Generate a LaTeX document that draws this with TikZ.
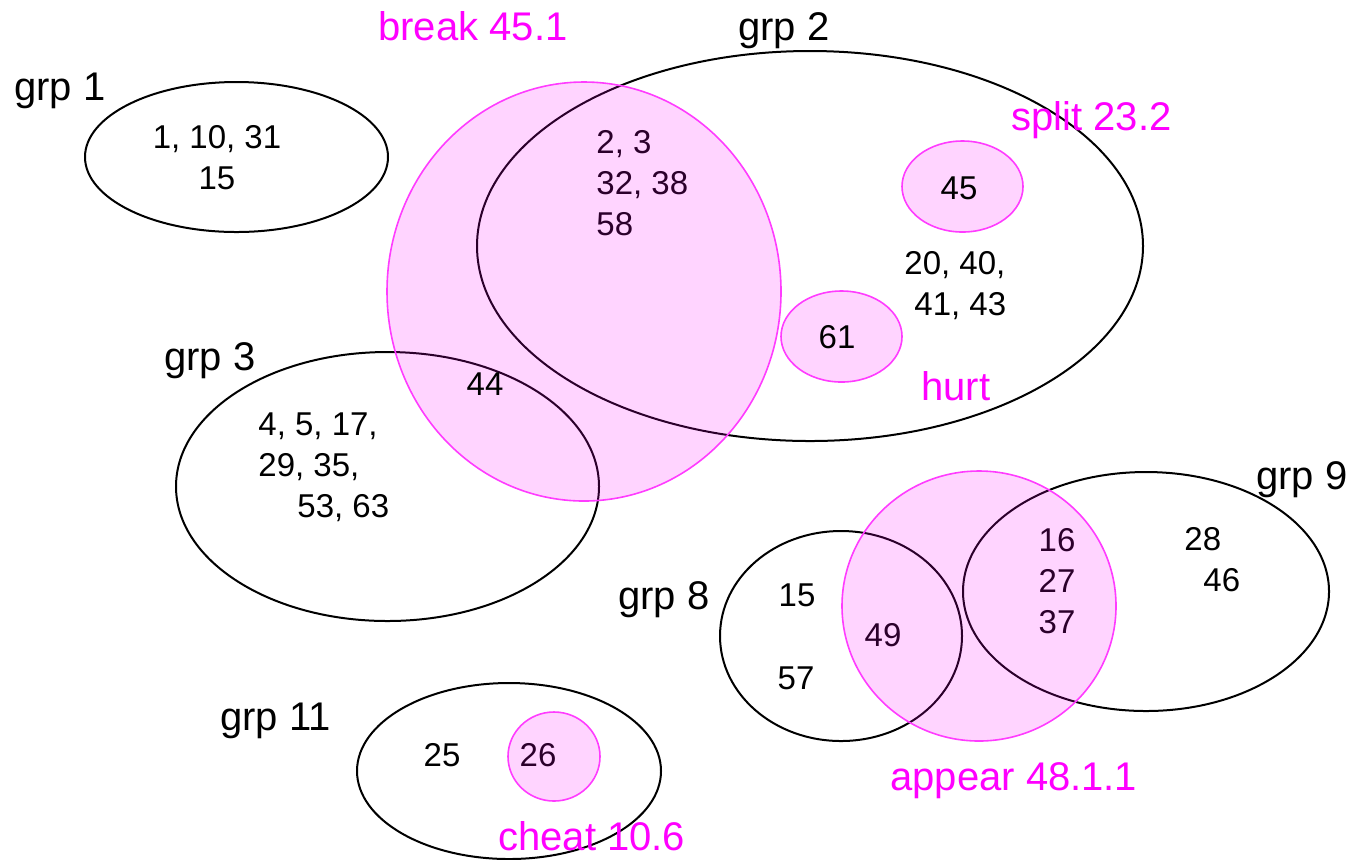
\documentclass[tikz,border=0pt]{standalone}
\usepackage{fontspec}
\setmainfont{Liberation Sans}
\definecolor{tagpink}{RGB}{255,0,255}
\definecolor{tagline}{RGB}{255,60,255}
\begin{document}
\begin{tikzpicture}[x=0.5pt,y=-0.5pt,
  grp/.style={draw=black,line width=1pt},
  tag/.style={fill=tagpink,fill opacity=0.17,draw=tagline,draw opacity=1,line width=0.8pt},
  num/.style={inner sep=0pt,font=\fontsize{16.5}{20.5}\selectfont},
  lbl/.style={inner sep=0pt,anchor=base west,font=\fontsize{20}{24}\selectfont},
  taglbl/.style={lbl,text=tagpink}]
\useasboundingbox (0,0) rectangle (1347,859);

% group outlines
\draw[grp] (236.5,157) ellipse [x radius=75.75pt, y radius=37.5pt];
\draw[grp] (810,246) ellipse [x radius=166.5pt, y radius=97.5pt];
\draw[grp] (387.5,486.5) ellipse [x radius=105.75pt, y radius=67.25pt];
\draw[grp] (841,636) ellipse [x radius=60.5pt, y radius=52.5pt];
\draw[grp] (1146,591.5) ellipse [x radius=91.5pt, y radius=59.75pt];
\draw[grp] (509,771) ellipse [x radius=76pt, y radius=44pt];

% group labels
\node[lbl] (g1) at (14,100) {grp 1};
\node[lbl] (g2) at (738,40) {grp 2};
\node[lbl] (g3) at (164,370) {grp 3};
\node[lbl] (g8) at (618,609) {grp 8};
\node[lbl] (g9) at (1256,489) {grp 9};
\node[lbl] (g11) at (220,730) {grp 11};

% tag labels
\node[taglbl] (tbreak) at (378,40) {break 45.1};
\node[taglbl] (tsplit) at (1011,130) {split 23.2};
\node[taglbl] (thurt) at (921,400) {hurt};
\node[taglbl] (tappear) at (890,790) {appear 48.1.1};
\node[taglbl] (tcheat) at (498,850) {cheat 10.6};

% members
\node[num,align=center] (m1) at (217,158) {1, 10, 31\\15};
\node[num,align=left,anchor=west] (m2a) at (596,183) {2, 3\\32, 38\\58};
\node[num,align=left,anchor=west] (m2b) at (904,286) {20, 40,\\\hspace*{5pt}41, 43};
\node[num,align=left,anchor=west] (m3) at (258,467) {4, 5, 17,\\29, 35,\\\hspace*{19.5pt}53, 63};
\node[num] (m8a) at (797,595) {15};
\node[num] (m8b) at (796,678) {57};
\node[num] (m49) at (883,635) {49};
\node[num,align=center] (m9a) at (1057,581) {16\\27\\37};
\node[num,align=left,anchor=west] (m9b) at (1184,560) {28\\\hspace*{9.5pt}46};
\node[num] (m25) at (442,755) {25};
\node[num] (m26) at (538,755) {26};

% tag regions
\draw[tag] (584,291.5) ellipse [x radius=98.5pt, y radius=104.75pt];
\draw[tag] (962.5,186.5) ellipse [x radius=30.25pt, y radius=22.75pt];
\draw[tag] (841.5,336.5) ellipse [x radius=30.25pt, y radius=22.75pt];
\draw[tag] (979,606) ellipse [x radius=68.5pt, y radius=67.5pt];
\draw[tag] (554,756.5) ellipse [x radius=23pt, y radius=22.25pt];

% members drawn over the tag regions
\node[num] (m45) at (959,188) {45};
\node[num] (m61) at (837,337) {61};
\node[num] (m44) at (485,384) {44};
\end{tikzpicture}
\end{document}
